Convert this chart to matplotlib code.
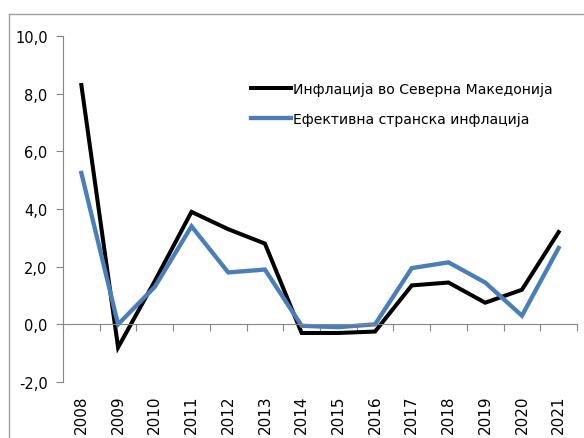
import matplotlib
matplotlib.use("Agg")
import matplotlib.pyplot as plt
from matplotlib.lines import Line2D

years = ["2008", "2009", "2010", "2011", "2012", "2013", "2014", "2015",
         "2016", "2017", "2018", "2019", "2020", "2021"]
domestic = [8.3, -0.8, 1.5, 3.9, 3.3, 2.8, -0.3, -0.3, -0.25, 1.35, 1.45, 0.75, 1.2, 3.2]
foreign = [5.25, 0.0, 1.3, 3.4, 1.8, 1.9, -0.05, -0.1, 0.0, 1.95, 2.15, 1.45, 0.3, 2.65]
label_domestic = "Инфлација во Северна Македонија"
label_foreign = "Ефективна странска инфлација"
yticks = [-2, 0, 2, 4, 6, 8, 10]

plt.rcParams['font.family'] = ['DejaVu Sans']
W, H = 584, 439
fig = plt.figure(figsize=(W / 100, H / 100), dpi=100)
ax = fig.add_axes([63 / W, 1 - 383 / H, (577 - 63) / W, (383 - 37) / H])

gray = "#868686"
x = list(range(len(years)))
ax.plot(x, domestic, color="black", lw=2.9, solid_joinstyle="miter", label=label_domestic)
ax.plot(x, foreign, color="#4a7ebb", lw=3.1, solid_joinstyle="miter", label=label_foreign)

ax.set_xlim(-0.5, len(years) - 0.5)
ax.set_ylim(-2, 10)
ax.set_yticks(yticks)
ax.set_yticklabels([f"{v:.1f}".replace(".", ",") for v in yticks], fontsize=10.5)
ax.tick_params(axis="y", direction="out", length=5, color=gray, pad=6)

for s in ["top", "right"]:
    ax.spines[s].set_visible(False)
ax.spines["left"].set_color(gray)
ax.spines["bottom"].set_color(gray)
ax.spines["bottom"].set_position(("data", 0))
ax.set_xticks([i + 0.5 for i in range(-1, len(years))])
ax.set_xticklabels([])
ax.tick_params(axis="x", direction="out", length=5, color=gray)

for i, yr in enumerate(years):
    ax.text(i, -0.035, yr, transform=ax.get_xaxis_transform(), rotation=90,
            ha="center", va="top", fontsize=11)

leg = ax.legend(loc="upper left", bbox_to_anchor=(251 / W, 1 - 83 / H),
                bbox_transform=fig.transFigure, frameon=False, fontsize=10.1,
                handlelength=2.85, handletextpad=0.15, labelspacing=1.15,
                borderpad=0, borderaxespad=0)

fx = 9 / W
fy = 1 - 15 / H
fig.add_artist(Line2D([fx, fx], [0, fy], transform=fig.transFigure, color="#a0a0a0", lw=1))
fig.add_artist(Line2D([fx, 1], [fy, fy], transform=fig.transFigure, color="#a0a0a0", lw=1))

fig.savefig("out.png", dpi=100)
